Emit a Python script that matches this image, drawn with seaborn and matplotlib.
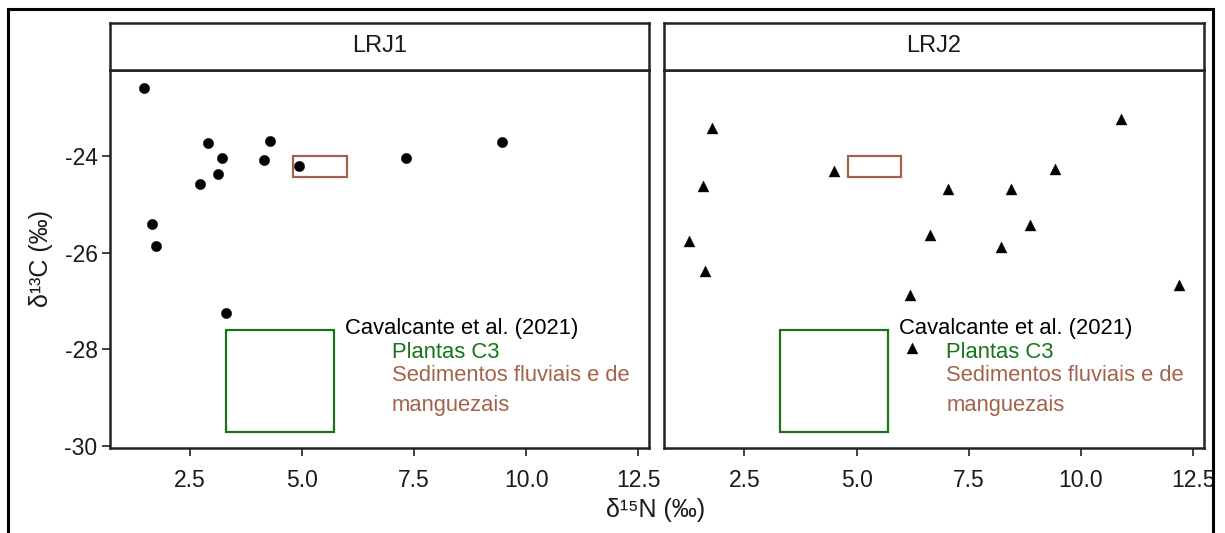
import numpy as np
import pandas as pd
import matplotlib
matplotlib.use("Agg")
import matplotlib.pyplot as plt
from matplotlib.patches import Rectangle
import seaborn as sns

# ---------------- data ----------------
sites = ["LRJ1", "LRJ2"]
site_markers = ["o", "^"]

lrj1_d15n = [1.48, 2.90, 4.29, 3.22, 4.15, 4.92, 7.31, 3.12, 2.72, 1.65, 1.74, 3.30, 9.45]
lrj1_d13c = [-22.60, -23.72, -23.68, -24.05, -24.09, -24.21, -24.05, -24.38, -24.58,
             -25.41, -25.87, -27.24, -23.71]

lrj2_d15n = [1.77, 1.58, 1.26, 1.63, 4.49, 7.04, 8.43, 9.41, 10.88, 6.64, 8.86, 8.21,
             6.18, 12.19, 6.23]
lrj2_d13c = [-23.43, -24.63, -25.76, -26.37, -24.30, -24.68, -24.68, -24.26, -23.23,
             -25.63, -25.42, -25.89, -26.87, -26.67, -27.97]

# Reference ranges (Cavalcante et al. 2021)
c3_d15n_range = [3.3, 5.7]
c3_d13c_range = [-29.7, -27.6]
sed_d15n_range = [4.8, 6.0]
sed_d13c_range = [-24.43, -24.0]

ref_title = "Cavalcante et al. (2021)"
ref_labels = ["Plantas C3", "Sedimentos fluviais e de\nmanguezais"]
ref_colors = ["#187418", "#a3624c"]

x_ticks = [2.5, 5.0, 7.5, 10.0, 12.5]
x_tick_labels = ["2.5", "5.0", "7.5", "10.0", "12.5"]
y_ticks = [-30, -28, -26, -24]
y_tick_labels = ["-30", "-28", "-26", "-24"]

df = pd.concat([
    pd.DataFrame({"site": "LRJ1", "d15N": lrj1_d15n, "d13C": lrj1_d13c}),
    pd.DataFrame({"site": "LRJ2", "d15N": lrj2_d15n, "d13C": lrj2_d13c}),
], ignore_index=True)

# ---------------- style ----------------
sns.set_theme(style="white")
plt.rcParams["font.family"] = ["Liberation Sans", "DejaVu Sans"]
TXT = "#1a1a1a"

W, H = 1225, 533
fig = plt.figure(figsize=(W / 100, H / 100), dpi=100)

def fx(px):
    return px / W

def fy(py):
    return 1 - py / H

panel_x = [(110, 649), (664, 1204)]
panel_top, panel_bot = 70, 448
strip_top = 23

xlim = (0.71, 12.74)
ylim = (-30.04, -22.22)

for i, (site, mk) in enumerate(zip(sites, site_markers)):
    x0, x1 = panel_x[i]
    ax = fig.add_axes([fx(x0), fy(panel_bot), fx(x1 - x0), (panel_bot - panel_top) / H])
    sub = df[df["site"] == site]
    sns.scatterplot(data=sub, x="d15N", y="d13C", marker=mk, color="black",
                    s=55 if mk == "o" else 62, edgecolor="black", linewidth=0.3,
                    ax=ax, legend=False, zorder=3)
    ax.add_patch(Rectangle((c3_d15n_range[0], c3_d13c_range[0]),
                           c3_d15n_range[1] - c3_d15n_range[0],
                           c3_d13c_range[1] - c3_d13c_range[0],
                           fill=False, edgecolor=ref_colors[0], linewidth=1.6, zorder=2))
    ax.add_patch(Rectangle((sed_d15n_range[0], sed_d13c_range[0]),
                           sed_d15n_range[1] - sed_d15n_range[0],
                           sed_d13c_range[1] - sed_d13c_range[0],
                           fill=False, edgecolor=ref_colors[1], linewidth=1.6, zorder=2))
    ax.text(5.95, -27.57, ref_title, color="black", fontsize=15.8, ha="left", va="center")
    ax.text(7.0, -28.07, ref_labels[0], color=ref_colors[0], fontsize=15.8, ha="left", va="center")
    ax.text(7.0, -28.33, ref_labels[1], color=ref_colors[1], fontsize=15.8, ha="left", va="top",
            linespacing=1.55)
    ax.set_xlim(*xlim)
    ax.set_ylim(*ylim)
    ax.set_xticks(x_ticks)
    ax.set_xticklabels(x_tick_labels)
    ax.set_yticks(y_ticks)
    if i == 0:
        ax.set_yticklabels(y_tick_labels)
        ax.tick_params(axis="y", which="both", left=True, length=6, width=1.3, color="#333333",
                       labelsize=16.5, labelcolor=TXT, pad=3)
    else:
        ax.set_yticklabels([])
        ax.tick_params(axis="y", left=False, length=0)
    ax.tick_params(axis="x", bottom=True, length=6, width=1.3, color="#333333",
                   labelsize=16.5, labelcolor=TXT, pad=9)
    ax.set_xlabel("")
    ax.set_ylabel("")
    for sp in ax.spines.values():
        sp.set_visible(True)
        sp.set_color("#222222")
        sp.set_linewidth(1.8)
    ax.grid(False)

    # facet strip
    sax = fig.add_axes([fx(x0), fy(panel_top), fx(x1 - x0), (panel_top - strip_top) / H])
    sax.set_xticks([])
    sax.set_yticks([])
    sax.set_facecolor("white")
    for sp in sax.spines.values():
        sp.set_visible(True)
        sp.set_color("#222222")
        sp.set_linewidth(1.8)
    sax.text(0.5, 0.5, site, transform=sax.transAxes, ha="center", va="center",
             fontsize=17, color=TXT)

fig.text(fx(656), fy(510), "δ\u00b9\u2075N (‰)", ha="center", va="center", fontsize=18, color=TXT)
fig.text(fx(41), fy(259), "δ\u00b9\u00b3C (‰)", ha="center", va="center", rotation=90,
         fontsize=18, color=TXT)

# outer document frame
fig.patches.append(Rectangle((fx(8), -0.05), fx(1213 - 8), fy(9) + 0.05,
                             transform=fig.transFigure, fill=False,
                             edgecolor="black", linewidth=2.2, figure=fig))

fig.savefig("out.png", dpi=100, facecolor="white")
